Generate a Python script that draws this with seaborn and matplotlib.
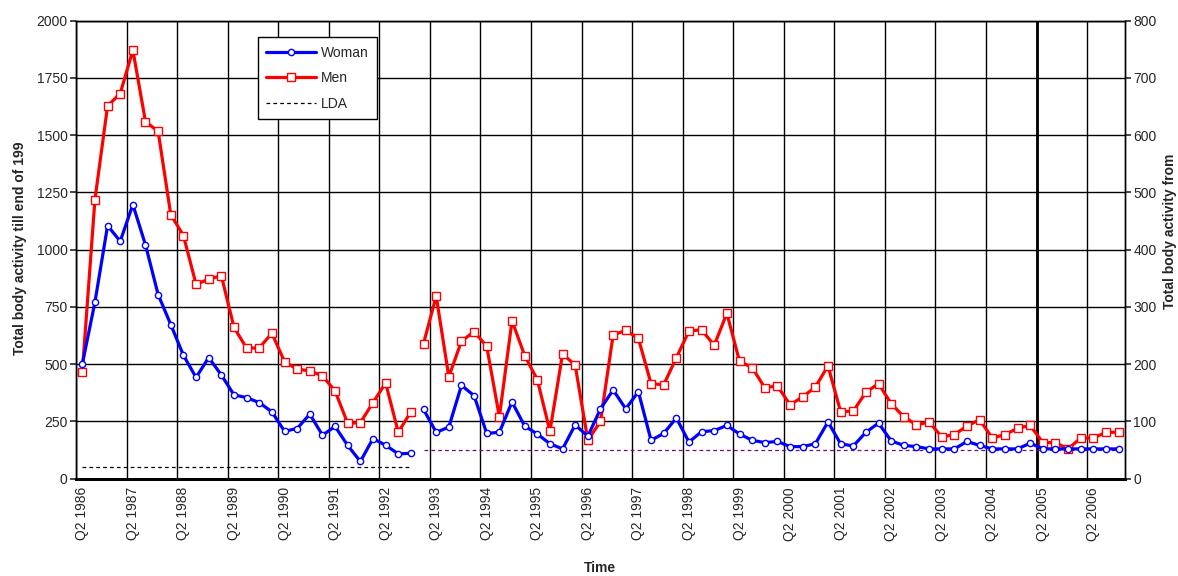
import numpy as np
import pandas as pd
import matplotlib
matplotlib.use("Agg")
import matplotlib.pyplot as plt
from matplotlib.lines import Line2D
import seaborn as sns

# ---------------- data ----------------
# quarterly categories Q2 1986 .. Q4 2006 (83 categories)
tick_labels = ["Q2 1986", "Q2 1987", "Q2 1988", "Q2 1989", "Q2 1990", "Q2 1991",
               "Q2 1992", "Q2 1993", "Q2 1994", "Q2 1995", "Q2 1996", "Q2 1997",
               "Q2 1998", "Q2 1999", "Q2 2000", "Q2 2001", "Q2 2002", "Q2 2003",
               "Q2 2004", "Q2 2005", "Q2 2006"]
n_categories = 83

# Q2 1986 .. Q4 1992 (left axis)
women_pre = [500, 771, 1105, 1037, 1197, 1021, 804, 673, 539, 442, 529, 453, 366,
             354, 332, 292, 207, 219, 282, 190, 228, 145, 75, 175, 146, 108, 111]
men_pre = [465, 1219, 1628, 1682, 1872, 1559, 1517, 1153, 1062, 849, 871, 887, 661,
           570, 571, 635, 511, 478, 471, 449, 383, 241, 245, 332, 418, 203, 292]
lda_pre = 50

# Q1 1993 .. Q4 2006 (right axis)
women_post = [121, 81, 90, 163, 145, 79, 81, 134, 92, 78, 61, 52, 94, 74, 122, 155,
              122, 152, 67, 79, 106, 64, 82, 84, 93, 78, 67, 63, 65, 56, 56, 61, 99,
              61, 57, 81, 97, 66, 58, 56, 52, 52, 52, 65, 58, 52, 52, 52, 62, 52, 52,
              52, 52, 52, 52, 52]
men_post = [236, 319, 178, 240, 257, 231, 108, 276, 215, 173, 83, 218, 198, 67, 100,
            251, 259, 245, 166, 164, 211, 258, 260, 233, 289, 205, 194, 159, 162, 129,
            143, 160, 197, 117, 118, 151, 166, 131, 108, 94, 99, 73, 77, 92, 103, 71,
            77, 88, 93, 63, 63, 52, 71, 71, 81, 81]
lda_post = 50

x_pre = np.arange(len(women_pre))
x_post = np.arange(len(women_pre), len(women_pre) + len(women_post))
df_pre = pd.DataFrame({"x": x_pre, "Woman": women_pre, "Men": men_pre})
df_post = pd.DataFrame({"x": x_post, "Woman": women_post, "Men": men_post})

# ---------------- style ----------------
sns.set_style("white")
plt.rcParams["font.family"] = ["Liberation Sans", "DejaVu Sans"]
plt.rcParams["font.size"] = 10

fig = plt.figure(figsize=(11.78, 5.76), dpi=100)
ax = fig.add_axes([0.0645, 0.169, 0.8905, 0.795])
ax2 = ax.twinx()

BLUE = "#0000FF"
RED = "#FF0000"
PURPLE = "#800080"

wkw = dict(color=BLUE, lw=2.3, marker="o", markersize=4.5, markerfacecolor="white",
           markeredgecolor=BLUE, markeredgewidth=1.0)
mkw = dict(color=RED, lw=2.3, marker="s", markersize=5.5, markerfacecolor="white",
           markeredgecolor=RED, markeredgewidth=1.0)

# LDA lines
sns.lineplot(x=x_pre, y=[lda_pre] * len(x_pre), ax=ax, color="black", lw=0.9,
             linestyle=(0, (3, 2.5)), zorder=3)
sns.lineplot(x=x_post, y=[lda_post] * len(x_post), ax=ax2, color=PURPLE, lw=0.9,
             linestyle=(0, (3, 2.5)), zorder=3)

sns.lineplot(data=df_pre, x="x", y="Men", ax=ax, zorder=4, **mkw)
sns.lineplot(data=df_pre, x="x", y="Woman", ax=ax, zorder=5, **wkw)
sns.lineplot(data=df_post, x="x", y="Men", ax=ax2, zorder=4, **mkw)
sns.lineplot(data=df_post, x="x", y="Woman", ax=ax2, zorder=5, **wkw)

# ---------------- axes ----------------
ax.set_xlim(-0.5, n_categories - 0.5)
ax.set_ylim(0, 2000)
ax2.set_ylim(0, 800)
ax.set_yticks(np.arange(0, 2001, 250))
ax2.set_yticks(np.arange(0, 801, 100))

# gridlines at category boundaries every 4 quarters
bounds = np.arange(-0.5, n_categories - 0.5, 4)
ax.set_xticks(bounds)
ax.set_xticklabels([])
ax.set_xticks(np.arange(0, n_categories, 4)[:len(tick_labels)], minor=True)
ax.set_xticklabels(tick_labels, minor=True, rotation=90)
ax.tick_params(axis="x", which="major", direction="inout", length=7, width=1.2, color="black")
ax.tick_params(axis="x", which="minor", length=0, pad=6, labelsize=10)
ax.tick_params(axis="y", direction="out", length=4, width=1.2, labelsize=10, pad=2)
ax2.tick_params(axis="y", direction="out", length=4, width=1.2, labelsize=10, pad=2)

ax.grid(True, which="major", color="black", lw=1.0)
ax.set_axisbelow(True)
ax2.grid(False)
ax.axvline(75.5, color="black", lw=2.0, zorder=2)

for a in (ax, ax2):
    for s in a.spines.values():
        s.set_color("black")
        s.set_linewidth(1.0)
    a.spines["bottom"].set_linewidth(2.0)
    a.set_xlabel("")
    a.set_ylabel("")

fig.text(20 / 1178, 1 - 248 / 576, "Total body activity till end of 199", rotation=90,
         ha="center", va="center", fontsize=10, fontweight="bold")
fig.text(1170 / 1178, 1 - 231 / 576, "Total body activity from", rotation=90,
         ha="center", va="center", fontsize=10, fontweight="bold")
fig.text(600 / 1178, 1 - 568 / 576, "Time", ha="center", va="center",
         fontsize=10, fontweight="bold")

handles = [Line2D([], [], **wkw), Line2D([], [], **mkw),
           Line2D([], [], color="black", lw=0.9, linestyle=(0, (3, 2.5)))]
leg = ax2.legend(handles, ["Woman", "Men", "LDA"], loc="upper left",
                 bbox_to_anchor=(0.1735, 0.964), frameon=True, fancybox=False,
                 edgecolor="black", framealpha=1, fontsize=10, handlelength=3.6,
                 handletextpad=0.3, labelspacing=0.85, borderpad=0.6, borderaxespad=0)
leg.get_frame().set_linewidth(1.0)

fig.savefig("out.png", dpi=100)
